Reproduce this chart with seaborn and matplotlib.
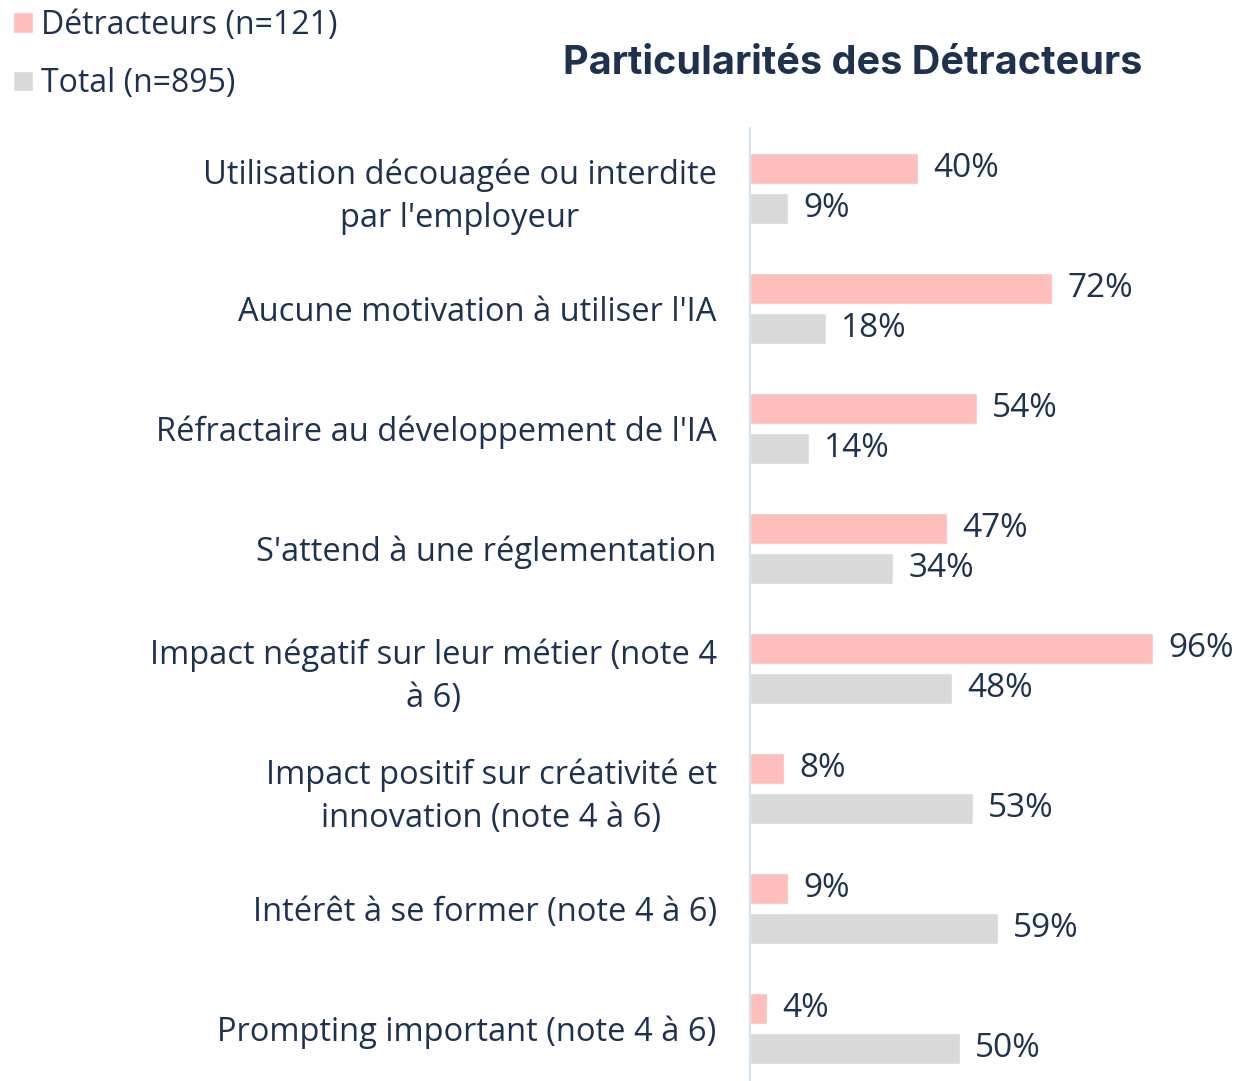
import pandas as pd
import matplotlib.pyplot as plt
import seaborn as sns

# données
categories = [
    "Utilisation découagée ou interdite\npar l'employeur",
    "Aucune motivation à utiliser l'IA",
    "Réfractaire au développement de l'IA",
    "S'attend à une réglementation",
    "Impact négatif sur leur métier (note 4\nà 6)",
    "Impact positif sur créativité et\ninnovation (note 4 à 6)",
    "Intérêt à se former (note 4 à 6)",
    "Prompting important (note 4 à 6)",
]
detracteurs = [40, 72, 54, 47, 96, 8, 9, 4]
total = [9, 18, 14, 34, 48, 53, 59, 50]
groupes = ["Détracteurs (n=121)", "Total (n=895)"]
couleurs = ["#FFBDBB", "#D9D9D9"]

df = pd.DataFrame({
    "categorie": categories * 2,
    "valeur": detracteurs + total,
    "groupe": [groupes[0]] * len(categories) + [groupes[1]] * len(categories),
})

sns.set_style("white")
plt.rcParams["font.family"] = ["Open Sans", "DejaVu Sans"]
texte = "#1E3250"

W, H = 1243, 1081
fig = plt.figure(figsize=(W / 100, H / 100), dpi=100)
ax = fig.add_axes([750 / W, 0, 493 / W, (H - 128) / H])

sns.barplot(data=df, y="categorie", x="valeur", hue="groupe", palette=couleurs,
            width=2 / 3, gap=0.225, orient="h", ax=ax, saturation=1)

for c in ax.containers:
    ax.bar_label(c, fmt="{:.0f}%", padding=11, fontsize=24, color=texte)

ax.set_xlim(0, 493 / 4.2)
ax.set_ylim(7.44, -0.5)
ax.set_xlabel("")
ax.set_ylabel("")
ax.set_xticks([])
ax.tick_params(axis="y", length=0, pad=24, labelsize=23.5, labelcolor=texte)
for lab in ax.get_yticklabels():
    lab.set_multialignment("center")
    lab.set_linespacing(1.4)
for s in ["top", "right", "bottom"]:
    ax.spines[s].set_visible(False)
ax.spines["left"].set_color("#D6E1F0")
ax.spines["left"].set_linewidth(1.5)

handles, labels = ax.get_legend_handles_labels()
ax.get_legend().remove()
fig.legend(handles, labels, loc="upper left", bbox_to_anchor=(0, 1 + 4 / H),
           frameon=False, fontsize=23, labelcolor=texte, handlelength=0.62,
           handleheight=0.62, handletextpad=0.25, labelspacing=0.8,
           borderaxespad=0)

fig.text(853 / W, 1 - 64 / H, "Particularités des Détracteurs", ha="center",
         va="center", fontsize=28.5, fontweight="bold", color=texte,
         family=["Inter", "DejaVu Sans"])

fig.savefig("out.png", dpi=100)
